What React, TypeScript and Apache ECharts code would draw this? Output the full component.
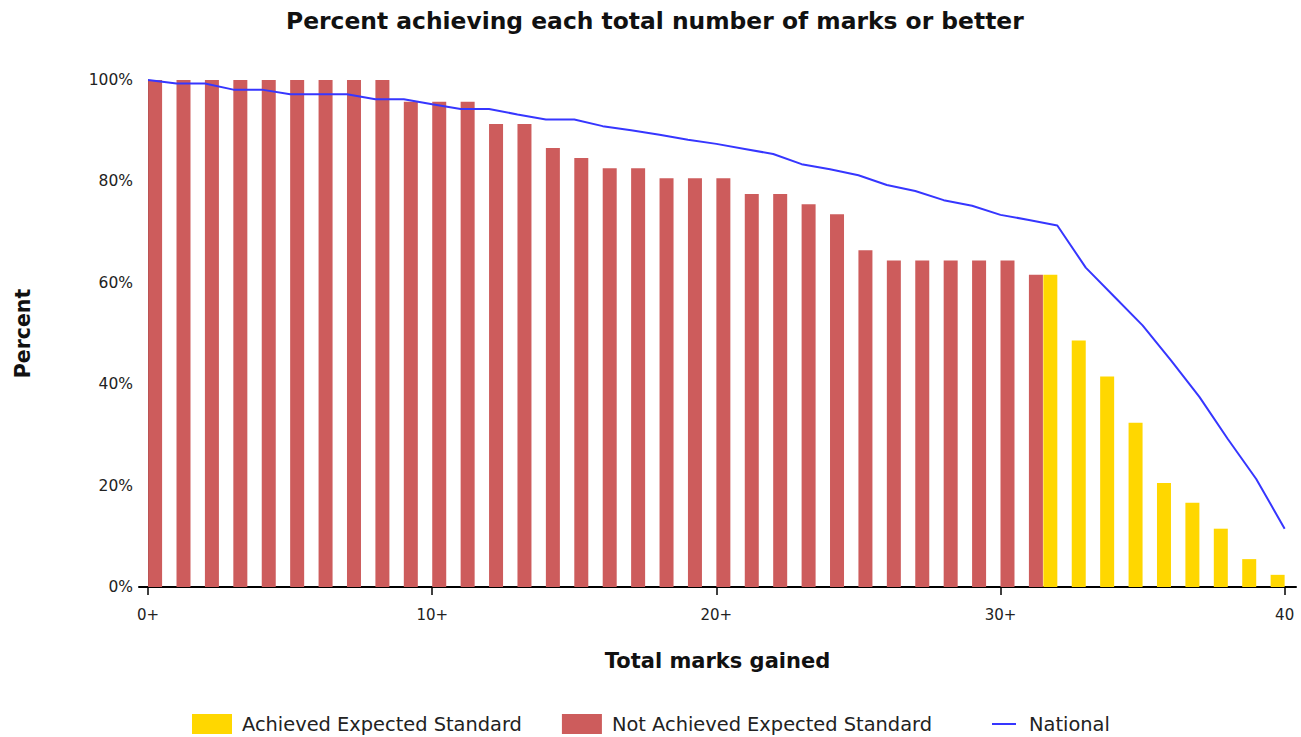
import React, { useEffect, useRef } from "react";
import * as echarts from "echarts";

// Total marks (x positions) 0..40
const marks = [
  0, 1, 2, 3, 4, 5, 6, 7, 8, 9, 10, 11, 12, 13, 14, 15, 16, 17, 18, 19, 20,
  21, 22, 23, 24, 25, 26, 27, 28, 29, 30, 31, 32, 33, 34, 35, 36, 37, 38, 39, 40,
];

// Percent of pupils at each total or better, marks 0..31 (not achieved the standard)
const notAchieved = [
  100, 100, 100, 100, 100, 100, 100, 100, 100, 95.7, 95.7, 95.7, 91.3, 91.3,
  86.6, 84.6, 82.6, 82.6, 80.6, 80.6, 80.6, 77.5, 77.5, 75.5, 73.5, 66.4, 64.4,
  64.4, 64.4, 64.4, 64.4, 61.6,
];

// marks 32..40 (achieved the expected standard)
const achievedStart = 32;
const achieved = [61.6, 48.6, 41.5, 32.4, 20.5, 16.6, 11.5, 5.5, 2.4];

// National comparison, marks 0..40
const national = [
  100, 99.3, 99.3, 98.1, 98.1, 97.2, 97.2, 97.2, 96.2, 96.2, 95.2, 94.3, 94.3,
  93.2, 92.2, 92.2, 90.9, 90.1, 89.2, 88.2, 87.4, 86.4, 85.4, 83.4, 82.4, 81.2,
  79.3, 78.1, 76.3, 75.2, 73.4, 72.4, 71.3, 63.0, 57.3, 51.6, 44.7, 37.5, 29.2,
  21.3, 11.5,
];

const xTickValues = [0, 10, 20, 30, 40];
const yTicks = [0, 20, 40, 60, 80, 100];

const FONT = "DejaVu Sans";

export default function App() {
  const ref = useRef<HTMLDivElement>(null);

  useEffect(() => {
    if (!ref.current) return;
    const chart = echarts.init(ref.current, undefined, { renderer: "svg" });

    const option: any = {
      animation: false,
      backgroundColor: "#ffffff",
      title: {
        text: "Percent achieving each total number of marks or better",
        left: 286,
        top: 9,
        padding: 0,
        textStyle: {
          fontFamily: FONT,
          fontWeight: "bold",
          fontSize: 23.4,
          color: "#111111",
        },
      },
      grid: {
        left: 139,
        right: 5,
        top: 80,
        bottom: 150,
        containLabel: false,
      },
      legend: [
        {
          left: 192,
          top: 714,
          itemWidth: 40,
          itemHeight: 20,
          itemGap: 40,
          padding: 0,
          icon: "rect",
          data: ["Achieved Expected Standard", "Not Achieved Expected Standard"],
          textStyle: {
            fontFamily: FONT,
            fontSize: 19.4,
            color: "#222222",
            padding: [0, 0, 0, 5],
          },
        },
        {
          left: 992,
          top: 714,
          itemWidth: 24,
          itemHeight: 2,
          padding: 0,
          data: [{ name: "National", icon: "rect" }],
          textStyle: {
            fontFamily: FONT,
            fontSize: 19.4,
            color: "#222222",
            padding: [0, 0, 0, 8],
            lineHeight: 20,
          },
        },
      ],
      xAxis: {
        type: "value",
        min: -0.32,
        max: 40.4,
        name: "Total marks gained",
        nameLocation: "middle",
        nameGap: 63,
        nameTextStyle: {
          fontFamily: FONT,
          fontWeight: "bold",
          fontSize: 21,
          color: "#111111",
        },
        axisLine: { show: true, lineStyle: { color: "#000000", width: 2 } },
        axisTick: {
          show: true,
          length: 8,
          customValues: xTickValues,
          lineStyle: { color: "#000000", width: 1.5 },
        },
        axisLabel: {
          customValues: xTickValues,
          margin: 20,
          fontFamily: FONT,
          fontSize: 15,
          color: "#222222",
          formatter: (v: number) => (v === 40 ? "40" : v + "+"),
        },
        splitLine: { show: false },
      },
      yAxis: {
        type: "value",
        min: 0,
        max: 100,
        interval: 20,
        name: "Percent",
        nameLocation: "middle",
        nameGap: 106,
        nameRotate: 90,
        nameTextStyle: {
          fontFamily: FONT,
          fontWeight: "bold",
          fontSize: 20.5,
          color: "#111111",
        },
        axisLine: { show: true, lineStyle: { color: "#000000", width: 1 } },
        axisTick: { show: false },
        axisLabel: {
          margin: 6,
          fontFamily: FONT,
          fontSize: 15.5,
          color: "#222222",
          formatter: (v: number) => (yTicks.includes(v) ? v + "%" : ""),
        },
        splitLine: { show: false },
      },
      series: [
        {
          name: "Achieved Expected Standard",
          type: "bar",
          barWidth: 14,
          barGap: "0%",
          itemStyle: { color: "#FFD700" },
          data: achieved.map((v, i) => [marks[achievedStart + i], v]),
        },
        {
          name: "Not Achieved Expected Standard",
          type: "bar",
          barWidth: 14,
          barGap: "0%",
          itemStyle: { color: "#CD5C5C" },
          data: notAchieved.map((v, i) => [marks[i], v]),
        },
        {
          name: "National",
          type: "line",
          symbol: "none",
          showSymbol: false,
          itemStyle: { color: "#3636ff" },
          lineStyle: { color: "#3636ff", width: 2 },
          data: national.map((v, i) => [marks[i], v]),
          z: 5,
        },
      ],
    };

    chart.setOption(option);
    return () => chart.dispose();
  }, []);

  return (
    <div
      ref={ref}
      style={{
        position: "fixed",
        left: 0,
        top: 0,
        width: 1301,
        height: 737,
        background: "#ffffff",
      }}
    />
  );
}
